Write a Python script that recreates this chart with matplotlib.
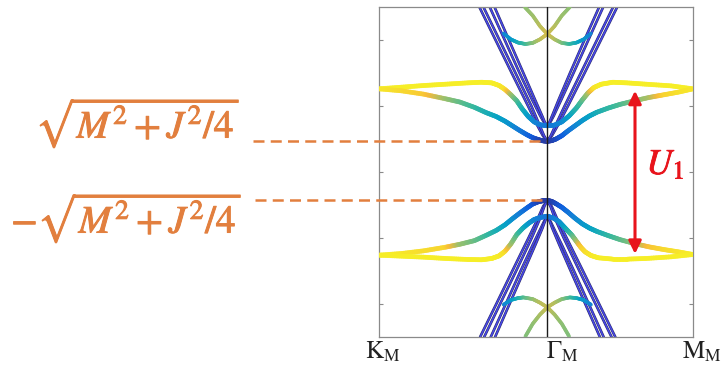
import numpy as np
import matplotlib
matplotlib.use("Agg")
import matplotlib.pyplot as plt
from matplotlib.collections import LineCollection
from matplotlib.colors import LinearSegmentedColormap
from matplotlib.transforms import ScaledTranslation
import matplotlib.patheffects as pe

plt.rcParams['mathtext.fontset'] = 'stix'

# ---- path and axis labels -------------------------------------------------
K_M, G_M, M_M = -1.1547, 0.0, 1.0
tick_pos = [K_M, G_M, M_M]
tick_labels = [r'$\mathrm{K}_\mathrm{M}$', r'$\mathrm{\Gamma}_\mathrm{M}$',
               r'$\mathrm{M}_\mathrm{M}$']
e_ticks = [-20, -10, 0, 10, 20]

# band edges at Gamma
gap_top = 4.65
gap_bot = -4.3
U1_top, U1_bot = 12.3, -12.4
U1_k = 0.602

# ---- flat (moire) bands: k, energy, orbital weight ------------------------
cb_out_k = [-1.155, -1.0, -0.85, -0.70, -0.55, -0.45, -0.38, -0.33, -0.29, -0.25,
            -0.21, -0.17, -0.13, -0.09, -0.05, 0.0, 0.05, 0.10, 0.15, 0.20, 0.24,
            0.28, 0.32, 0.37, 0.45, 0.55, 0.68, 0.85, 1.0]
cb_out_e = [12.6, 12.85, 13.1, 13.3, 13.5, 13.6, 13.5, 13.1, 12.5, 11.7,
            10.8, 9.5, 8.4, 7.6, 7.15, 7.0, 7.1, 7.6, 8.5, 9.7, 10.9,
            12.0, 12.8, 13.3, 13.6, 13.5, 13.3, 13.05, 12.6]
cb_out_w = [1.0, 1.0, 1.0, 1.0, 1.0, 1.0, 1.0, 0.99, 0.96, 0.74,
            0.62, 0.5, 0.4, 0.32, 0.27, 0.25, 0.27, 0.32, 0.42, 0.52, 0.62,
            0.74, 0.97, 1.0, 1.0, 1.0, 1.0, 1.0, 1.0]

cb_in_k = [-1.155, -1.0, -0.85, -0.70, -0.60, -0.50, -0.42, -0.35, -0.29, -0.24,
           -0.19, -0.14, -0.10, -0.06, -0.03, 0.0, 0.03, 0.06, 0.10, 0.14, 0.19,
           0.24, 0.29, 0.34, 0.42, 0.50, 0.60, 0.70, 0.80, 0.90, 1.0]
cb_in_e = [12.6, 12.3, 11.8, 11.1, 10.6, 9.8, 9.0, 8.4, 7.7, 7.0,
           6.3, 5.65, 5.2, 4.9, 4.72, gap_top, 4.75, 5.0, 5.5, 6.2, 7.0,
           7.8, 8.5, 9.05, 9.7, 10.25, 10.8, 11.3, 11.7, 12.1, 12.6]
cb_in_w = [0.98, 0.94, 0.9, 0.72, 0.64, 0.57, 0.5, 0.45, 0.4, 0.34,
           0.27, 0.2, 0.14, 0.09, 0.06, 0.05, 0.06, 0.09, 0.14, 0.22, 0.3,
           0.37, 0.43, 0.48, 0.55, 0.6, 0.68, 0.74, 0.92, 0.96, 0.98]

vb_in_k = [-1.155, -1.0, -0.85, -0.70, -0.60, -0.50, -0.42, -0.35, -0.29, -0.24,
           -0.19, -0.14, -0.10, -0.06, -0.03, 0.0, 0.03, 0.06, 0.10, 0.14, 0.19,
           0.24, 0.29, 0.34, 0.42, 0.50, 0.60, 0.70, 0.80, 0.90, 1.0]
vb_in_e = [-12.6, -12.35, -11.95, -11.4, -10.95, -10.4, -9.6, -8.85, -8.0, -7.1,
           -6.25, -5.45, -4.85, -4.5, -4.35, gap_bot, -4.45, -4.8, -5.35, -6.05, -7.0,
           -7.85, -8.5, -9.0, -9.65, -10.25, -10.85, -11.35, -11.75, -12.1, -12.5]
vb_in_w = [1.0, 0.98, 0.95, 0.93, 0.72, 0.65, 0.58, 0.5, 0.44, 0.36,
           0.28, 0.2, 0.13, 0.08, 0.06, 0.05, 0.06, 0.09, 0.15, 0.22, 0.3,
           0.37, 0.42, 0.47, 0.55, 0.62, 0.7, 0.88, 0.94, 0.97, 1.0]

vb_out_k = [-1.155, -1.0, -0.85, -0.70, -0.55, -0.45, -0.38, -0.33, -0.29, -0.25,
            -0.21, -0.17, -0.13, -0.09, -0.05, 0.0, 0.04, 0.08, 0.11, 0.14, 0.17,
            0.20, 0.23, 0.26, 0.30, 0.35, 0.45, 0.55, 0.68, 0.85, 1.0]
vb_out_e = [-12.6, -12.75, -12.9, -13.1, -13.25, -13.3, -13.1, -12.7, -12.0, -10.9,
            -9.5, -8.55, -7.8, -7.2, -6.9, -6.7, -6.95, -7.5, -8.2, -8.9, -9.6,
            -10.5, -11.4, -12.1, -12.65, -13.0, -13.2, -13.2, -13.1, -12.85, -12.5]
vb_out_w = [1.0, 1.0, 1.0, 1.0, 1.0, 1.0, 1.0, 0.99, 0.96, 0.74,
            0.62, 0.5, 0.4, 0.32, 0.27, 0.25, 0.27, 0.32, 0.4, 0.5, 0.6,
            0.72, 0.9, 0.95, 0.98, 1.0, 1.0, 1.0, 1.0, 1.0, 1.0]

# ---- higher remote bands crossing at Gamma --------------------------------
cp1_k = [-0.30, -0.25, -0.20, -0.15, -0.10, -0.05, 0.0, 0.05, 0.10, 0.155]
cp1_e = [21.0, 20.1, 19.6, 19.4, 19.55, 20.1, 20.9, 22.1, 23.7, 25.0]
cp1_w = [0.3, 0.38, 0.48, 0.58, 0.68, 0.76, 0.8, 0.76, 0.72, 0.7]
cp2_k = [-0.155, -0.10, -0.05, 0.0, 0.05, 0.10, 0.15, 0.20, 0.25, 0.30]
cp2_e = [25.0, 23.7, 22.1, 20.9, 20.1, 19.55, 19.4, 19.6, 20.1, 21.0]
cp2_w = [0.7, 0.72, 0.76, 0.8, 0.76, 0.68, 0.58, 0.48, 0.38, 0.3]

vp1_k = [-0.30, -0.25, -0.20, -0.165, -0.10, -0.05, 0.0, 0.05, 0.10, 0.15]
vp1_e = [-20.1, -19.4, -19.1, -19.0, -19.25, -19.8, -20.5, -21.6, -23.0, -24.9]
vp1_w = [0.3, 0.38, 0.5, 0.6, 0.7, 0.76, 0.78, 0.74, 0.7, 0.68]
vp2_k = [-0.15, -0.10, -0.05, 0.0, 0.05, 0.10, 0.155, 0.20, 0.25, 0.30]
vp2_e = [-24.9, -23.0, -21.6, -20.5, -19.8, -19.25, -19.0, -19.1, -19.4, -20.1]
vp2_w = [0.68, 0.7, 0.74, 0.78, 0.76, 0.7, 0.6, 0.5, 0.38, 0.3]

# ---- dispersive bands (k sampled at fixed energies) ------------------------
ca_e = [25, 20, 15, 10, 7, 5.5, gap_top]
ca_k = [[-0.466, -0.355, -0.244, -0.132, -0.067, -0.030, 0.0],
        [-0.438, -0.328, -0.218, -0.109, -0.051, -0.022, 0.0],
        [0.480, 0.368, 0.256, 0.142, 0.071, 0.032, 0.0],
        [0.452, 0.341, 0.230, 0.119, 0.055, 0.024, 0.0]]
cb_e = [25, 20, 15, 11, 8.5, 7.5, 7.0]
cb_k = [[-0.395, -0.292, -0.190, -0.105, -0.048, -0.022, 0.0],
        [-0.362, -0.263, -0.164, -0.085, -0.035, -0.016, 0.0],
        [0.384, 0.282, 0.180, 0.097, 0.044, 0.020, 0.0],
        [0.356, 0.255, 0.156, 0.079, 0.033, 0.014, 0.0]]
va_e = [-25, -20, -15, -10, -7, -5.2, gap_bot]
va_k = [[-0.461, -0.350, -0.240, -0.129, -0.064, -0.028, 0.0],
        [-0.433, -0.324, -0.214, -0.107, -0.049, -0.020, 0.0],
        [0.467, 0.356, 0.245, 0.133, 0.066, 0.030, 0.0],
        [0.441, 0.331, 0.221, 0.113, 0.052, 0.022, 0.0]]
vb_e = [-25, -20, -15, -11, -8.5, -7.3, -6.7]
vb_k = [[-0.388, -0.285, -0.183, -0.099, -0.044, -0.018, 0.0],
        [-0.358, -0.259, -0.160, -0.081, -0.033, -0.013, 0.0],
        [0.387, 0.285, 0.183, 0.099, 0.044, 0.018, 0.0],
        [0.361, 0.261, 0.161, 0.082, 0.034, 0.014, 0.0]]

# ---- styling --------------------------------------------------------------
parula = LinearSegmentedColormap.from_list('parula', [
    (0.2081, 0.1663, 0.5292), (0.0592, 0.3599, 0.8684), (0.0780, 0.5041, 0.8385),
    (0.0232, 0.6378, 0.7800), (0.2178, 0.7250, 0.6193), (0.5941, 0.7525, 0.4312),
    (0.9763, 0.7318, 0.2237), (0.9663, 0.9331, 0.1538)])
orange = '#E27F3E'
red = '#E8141C'


def weighted_curve(ax, k, e, w, lw=3.3, sub=10):
    k, e, w = (np.asarray(a, float) for a in (k, e, w))
    segs, vals = [], []
    t = np.linspace(0, 1, sub + 1)
    for i in range(len(k) - 1):
        xs = k[i] + (k[i + 1] - k[i]) * t
        ys = e[i] + (e[i + 1] - e[i]) * t
        ws = w[i] + (w[i + 1] - w[i]) * t
        for j in range(sub):
            segs.append([(xs[j], ys[j]), (xs[j + 1], ys[j + 1])])
            vals.append(0.5 * (ws[j] + ws[j + 1]))
    lc = LineCollection(segs, cmap=parula, norm=plt.Normalize(0, 1),
                        linewidths=lw, capstyle='round', zorder=3, alpha=0.92)
    lc.set_array(np.asarray(vals))
    ax.add_collection(lc)


fig = plt.figure(figsize=(7.23, 3.73), dpi=100)
ax = fig.add_axes([379 / 723, 1 - 337 / 373, 314 / 723, 330 / 373])
ax.set_xlim(K_M, M_M)
ax.set_ylim(-25, 25)

# dispersive bands
for ee, kk in ((ca_e, ca_k), (cb_e, cb_k), (va_e, va_k), (vb_e, vb_k)):
    for kline in kk:
        ax.plot(kline, ee, color='#4848e8', lw=1.1, zorder=2,
                solid_capstyle='round',
                path_effects=[pe.Stroke(linewidth=1.9, foreground='#2a2a66'),
                              pe.Normal()])

# remote bands
for k, e, w in ((cp1_k, cp1_e, cp1_w), (cp2_k, cp2_e, cp2_w),
                (vp1_k, vp1_e, vp1_w), (vp2_k, vp2_e, vp2_w)):
    weighted_curve(ax, k, e, w, lw=2.6)

# flat bands
for k, e, w in ((cb_out_k, cb_out_e, cb_out_w), (cb_in_k, cb_in_e, cb_in_w),
                (vb_in_k, vb_in_e, vb_in_w), (vb_out_k, vb_out_e, vb_out_w)):
    weighted_curve(ax, k, e, w, lw=3.4)

ax.axvline(G_M, color='#1a1a1a', lw=1.0, zorder=5)

# axes frame and ticks
for s in ax.spines.values():
    s.set_color('#8a8a8a')
    s.set_linewidth(0.9)
ax.set_xticks(tick_pos, tick_labels)
ax.set_yticks(e_ticks, [''] * len(e_ticks))
ax.tick_params(axis='x', length=0, labelsize=18, pad=2, colors='#222222')
ax.tick_params(axis='y', direction='in', length=3, width=0.8,
               left=True, right=True, color='#8a8a8a')
for lab, dx in zip(ax.get_xticklabels(), (3, 11, 6)):
    lab.set_transform(lab.get_transform() +
                      ScaledTranslation(dx / 72, 0, fig.dpi_scale_trans))

# band-edge guides and labels
ax.plot([-2.02, G_M], [gap_top, gap_top], color=orange, lw=1.8,
        dashes=(4.4, 2.5), clip_on=False, zorder=4)
ax.plot([-2.005, G_M], [gap_bot, gap_bot], color=orange, lw=1.8,
        dashes=(4.4, 2.5), clip_on=False, zorder=4)
thick = [pe.Stroke(linewidth=0.7, foreground=orange), pe.Normal()]
fig.text(240 / 723, 1 - 138 / 373, r'$\sqrt{M^2+J^2/4}$', color=orange,
         fontsize=28, ha='right', va='baseline', path_effects=thick)
fig.text(242 / 723, 1 - 233 / 373, r'$-\sqrt{M^2+J^2/4}$', color=orange,
         fontsize=28, ha='right', va='baseline', path_effects=thick)

# interaction gap U1
ax.annotate('', xy=(U1_k, U1_top), xytext=(U1_k, U1_bot),
            arrowprops=dict(arrowstyle='<|-|>', color=red, lw=2.2,
                            mutation_scale=19, shrinkA=0, shrinkB=0),
            zorder=6)
ax.text(0.68, 1.2, r'$U_1$', color=red, fontsize=26, ha='left', va='center',
        path_effects=[pe.Stroke(linewidth=0.6, foreground=red), pe.Normal()])

fig.savefig('out.png', dpi=100, facecolor='white')
